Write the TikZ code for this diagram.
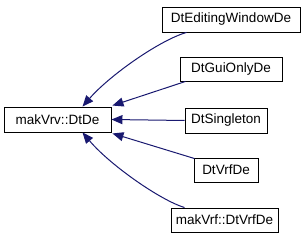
\documentclass[tikz,border=0pt]{standalone}
\usepackage{fontspec}
\setmainfont{Liberation Sans}
\usetikzlibrary{arrows.meta,calc}
\definecolor{edgeblue}{HTML}{191970}
\tikzset{
  cls/.style={draw=black,line width=0.9pt,fill=white,inner sep=0pt,font=\fontsize{13.5}{15}\selectfont},
  inh/.style={draw=edgeblue,line width=1pt,-{Triangle[length=11pt,width=9pt]}}
}
\begin{document}
\begin{tikzpicture}[x=1pt,y=-1pt]
\useasboundingbox (0,0) rectangle (307,240);
\node[cls,minimum width=107pt,minimum height=25pt] (de) at (57.5,119.5) {makVrv::DtDe};
\node[cls,minimum width=138pt,minimum height=25pt] (ew) at (231,19.5) {DtEditingWindowDe};
\node[cls,minimum width=102pt,minimum height=24pt] (gui) at (231,69) {DtGuiOnlyDe};
\node[cls,minimum width=82pt,minimum height=25pt] (sing) at (226,120.5) {DtSingleton};
\node[cls,minimum width=64pt,minimum height=24pt] (vrf) at (226,170) {DtVrfDe};
\node[cls,minimum width=107pt,minimum height=24pt] (mvrf) at (224.5,220) {makVrf::DtVrfDe};
\draw[inh] ($(ew.south west)+(25,0)$) .. controls (160,40) and (110,75) .. ($(de.north)+(25,0)$);
\draw[inh] ($(gui.south west)+(6,0)$) -- ($(de.north east)+(1,-1)$);
\draw[inh] (sing.west) -- (de.east);
\draw[inh] ($(vrf.north west)+(1,1)$) -- ($(de.south east)+(1,1)$);
\draw[inh] ($(mvrf.north west)+(14,0)$) .. controls (160,200) and (110,165) .. ($(de.south)+(25,0)$);
\end{tikzpicture}
\end{document}
